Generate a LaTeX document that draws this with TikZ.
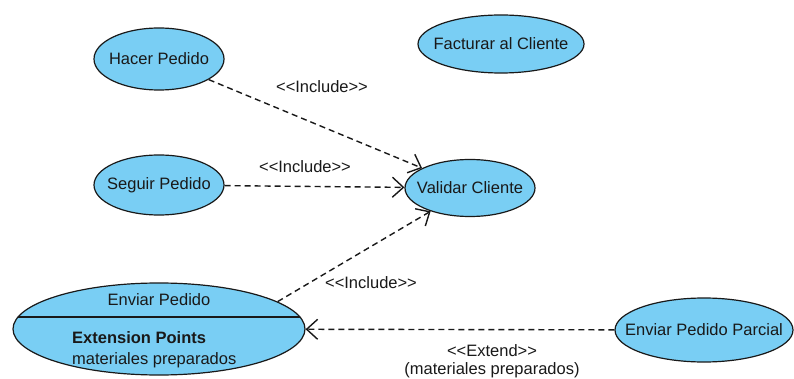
\documentclass[tikz,border=0pt]{standalone}
\usepackage{fontspec}
\setmainfont{Liberation Sans}
\usetikzlibrary{shapes.geometric,arrows.meta}
\definecolor{ucfill}{HTML}{79CEF4}
\begin{document}
\begin{tikzpicture}[x=1pt,y=-1pt,
  txt/.style={font=\fontsize{16.5}{20}\selectfont,text=black!90},
  uc/.style={ellipse,draw=black!90,line width=1.2pt,fill=ucfill,inner sep=0pt},
  dep/.style={dash pattern=on 6pt off 4pt,line width=1.4pt,draw=black!90,
    -{Straight Barb[length=11pt,width=20pt,line width=1.4pt]}},
  lbl/.style={txt,inner sep=0pt}]
\useasboundingbox[fill=white] (0,0) rectangle (794,379);
\node[uc,minimum width=130pt,minimum height=62pt] (hp) at (159,59) {};
\node[lbl] (hpt) at (hp) {Hacer Pedido};
\node[uc,minimum width=166pt,minimum height=58pt] (fc) at (501,44) {};
\node[lbl] (fct) at (fc) {Facturar al Cliente};
\node[uc,minimum width=130pt,minimum height=60pt] (sp) at (159,185) {};
\node[lbl] (spt) at (sp) {Seguir Pedido};
\node[uc,minimum width=130pt,minimum height=57pt] (vc) at (470,188) {};
\node[lbl] (vct) at (vc) {Validar Cliente};
\node[uc,minimum width=292pt,minimum height=92pt] (ep) at (159,329) {};
\begin{scope}
  \clip (159,329) ellipse [x radius=146pt,y radius=46pt];
  \draw[line width=1.2pt,draw=black!90] (0,317) -- (320,317);
\end{scope}
\node[lbl] (epname) at (159,300) {Enviar Pedido};
\node[lbl,anchor=west] (epx) at (72,338) {\bfseries Extension Points};
\node[lbl,anchor=west] (epm) at (72,360) {materiales preparados};
\node[uc,minimum width=178pt,minimum height=64pt] (epp) at (704,330) {};
\node[lbl] (eppt) at (epp) {Enviar Pedido Parcial};
\draw[dep] (hp) -- (vc);
\draw[dep] (sp) -- (vc);
\draw[dep] (ep.13) -- (vc);
\draw[dep] (epp) -- (ep);
\node[lbl] (l1) at (322,87) {<{}<Include>{}>};
\node[lbl] (l2) at (305,167) {<{}<Include>{}>};
\node[lbl] (l3) at (371,283) {<{}<Include>{}>};
\node[lbl] (l4) at (492,351) {<{}<Extend>{}>};
\node[lbl] (l5) at (492,370) {(materiales preparados)};
\end{tikzpicture}
\end{document}
